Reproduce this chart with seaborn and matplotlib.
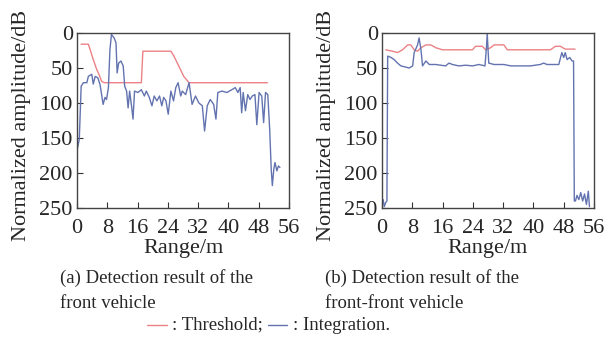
import numpy as np
import pandas as pd
import matplotlib
matplotlib.use("Agg")
import matplotlib.pyplot as plt
from matplotlib.lines import Line2D
import seaborn as sns

# ---- data (a) front vehicle ----
a_int_x = [0, 0.6, 1.1, 1.7, 2.6, 3.0, 3.9, 4.3, 4.8, 5.5, 6.1, 6.5, 6.9, 7.4, 7.8, 8.3, 8.7, 9.1,
           9.8, 10.3, 10.6, 11.0, 11.6, 12.2, 12.6, 13.1, 13.5, 13.9, 14.4, 14.8, 15.2, 16.1, 17.0,
           17.8, 18.3, 19.1, 19.8, 20.4, 21.1, 21.8, 22.4, 22.9, 23.5, 24.1, 24.8, 25.5, 26.1, 26.7,
           27.4, 27.8, 28.7, 29.6, 30.4, 31.3, 32.2, 33.1, 33.7, 34.4, 35.2, 36.1, 36.7, 37.2, 38.3,
           39.6, 40.9, 41.8, 42.5, 43.1, 43.5, 43.9, 44.5, 45.1, 45.7, 46.3, 47.0, 47.5, 48.1, 48.8,
           49.3, 49.8, 50.4, 50.9, 51.3, 51.6, 52.0, 52.3, 52.8, 53.2, 53.6]
a_int_y = [168, 152, 76, 71, 71, 62, 59, 73, 62, 64, 74, 88, 102, 92, 95, 78, 24, 2,
           7, 14, 57, 43, 40, 47, 76, 83, 107, 83, 104, 123, 83, 85, 81,
           90, 83, 92, 104, 90, 97, 90, 104, 92, 97, 116, 83, 97, 78, 71,
           90, 83, 88, 71, 102, 90, 100, 104, 140, 104, 95, 102, 123, 85, 83,
           85, 81, 78, 85, 78, 114, 85, 111, 88, 95, 90, 88, 131, 85, 90,
           128, 85, 88, 138, 194, 218, 194, 185, 197, 190, 192]
a_thr_x = [1.1, 3.0, 3.6, 4.3, 5.2, 5.8, 6.5, 7.2, 17.0, 17.4, 24.8, 25.6, 26.5, 27.4, 28.2, 29.6, 50.3]
a_thr_y = [16, 16, 26, 38, 52, 59, 69, 71, 71, 26, 26, 33, 43, 53, 62, 71, 71]

# ---- data (b) front-front vehicle ----
b_int_x = [0, 0.3, 0.6, 1.0, 1.3, 1.5, 2.4, 3.2, 4.1, 5.0, 7.2, 8.1, 8.5, 9.4, 9.8, 10.3, 10.7,
           11.6, 12.5, 14.2, 16.8, 17.7, 18.6, 20.3, 22.1, 23.9, 25.6, 27.2, 27.6, 27.8, 28.2, 29.6,
           32.2, 34.0, 36.6, 39.2, 41.8, 42.7, 43.6, 46.7, 47.5, 48.0, 48.4, 48.9, 49.6, 50.2, 50.6,
           50.8, 51.1, 51.5, 52.0, 52.5, 53.0, 53.5, 54.0, 54.5, 54.8]
b_int_y = [245, 238, 248, 242, 240, 33, 35, 38, 43, 47, 50, 47, 28, 17, 7, 24, 47,
           40, 45, 45, 47, 43, 45, 47, 46, 47, 45, 47, 20, 1, 43, 45,
           45, 47, 47, 47, 45, 43, 45, 45, 28, 35, 28, 38, 35, 40, 40,
           240, 240, 232, 238, 228, 240, 230, 245, 226, 248]
b_thr_x = [1.0, 2.8, 4.1, 5.4, 6.8, 7.6, 8.5, 9.4, 10.3, 11.6, 12.9, 14.2, 16.0, 23.9, 24.7, 26.5,
           27.4, 28.7, 29.6, 32.2, 33.1, 44.5, 45.8, 47.1, 48.4, 51.0]
b_thr_y = [24, 26, 28, 24, 17, 17, 24, 26, 21, 17, 17, 21, 24, 24, 19, 19,
           24, 21, 17, 17, 24, 24, 19, 19, 23, 23]

x_ticks = [0, 8, 16, 24, 32, 40, 48, 56]
y_ticks = [0, 50, 100, 150, 200, 250]
captions = [["(a) Detection result of the", "front vehicle"],
            ["(b) Detection result of the", "front-front vehicle"]]

RED = "#ec8286"
BLUE = "#6373b0"

sns.set_theme(style="ticks")
plt.rcParams["font.family"] = ["Liberation Serif", "DejaVu Serif"]

fig = plt.figure(figsize=(6.04, 3.37), dpi=100)
W, H = 604, 337

def px_axes(l, t, r, b):
    return fig.add_axes([l / W, 1 - b / H, (r - l) / W, (b - t) / H])

ax1 = px_axes(77, 33, 289, 208)
ax2 = px_axes(382, 33, 594, 208)

panels = [
    (ax1, a_thr_x, a_thr_y, a_int_x, a_int_y),
    (ax2, b_thr_x, b_thr_y, b_int_x, b_int_y),
]
for ax, tx, ty, ix, iy in panels:
    df_t = pd.DataFrame({"x": tx, "y": ty})
    df_i = pd.DataFrame({"x": ix, "y": iy})
    sns.lineplot(data=df_t, x="x", y="y", ax=ax, color=RED, lw=1.0, estimator=None, sort=False)
    sns.lineplot(data=df_i, x="x", y="y", ax=ax, color=BLUE, lw=1.0, estimator=None, sort=False)
    ax.set_xlim(0, 56)
    ax.set_ylim(250, 0)
    ax.set_xticks(x_ticks)
    ax.set_yticks(y_ticks)
    ax.tick_params(direction="in", length=4, width=0.8, labelsize=16, color="#333333")
    ax.tick_params(axis="x", pad=8)
    ax.tick_params(axis="y", pad=3)
    for s in ax.spines.values():
        s.set_color("#444444")
        s.set_linewidth(1.0)
    ax.set_xlabel("Range/m", fontsize=16)
    ax.set_ylabel("Normalized amplitude/dB", fontsize=16)
    ax.xaxis.set_label_coords(0.5, -0.18)
    ax.yaxis.set_label_coords(-46 / 212, 0.474)

for (l1, l2), xpx in zip(captions, [60, 325]):
    fig.text(xpx / W, 1 - 278 / H, l1, fontsize=13.5, va="center", ha="left")
    fig.text(xpx / W, 1 - 303 / H, l2, fontsize=13.5, va="center", ha="left")

ly = 1 - 325 / H
fig.add_artist(Line2D([147 / W, 167 / W], [ly, ly], color=RED, lw=1.0, transform=fig.transFigure))
fig.text(172 / W, ly, ": Threshold;", fontsize=13.5, va="center", ha="left")
fig.add_artist(Line2D([268 / W, 287 / W], [ly, ly], color=BLUE, lw=1.0, transform=fig.transFigure))
fig.text(293 / W, ly, ": Integration.", fontsize=13.5, va="center", ha="left")

fig.savefig("out.png", dpi=100)
